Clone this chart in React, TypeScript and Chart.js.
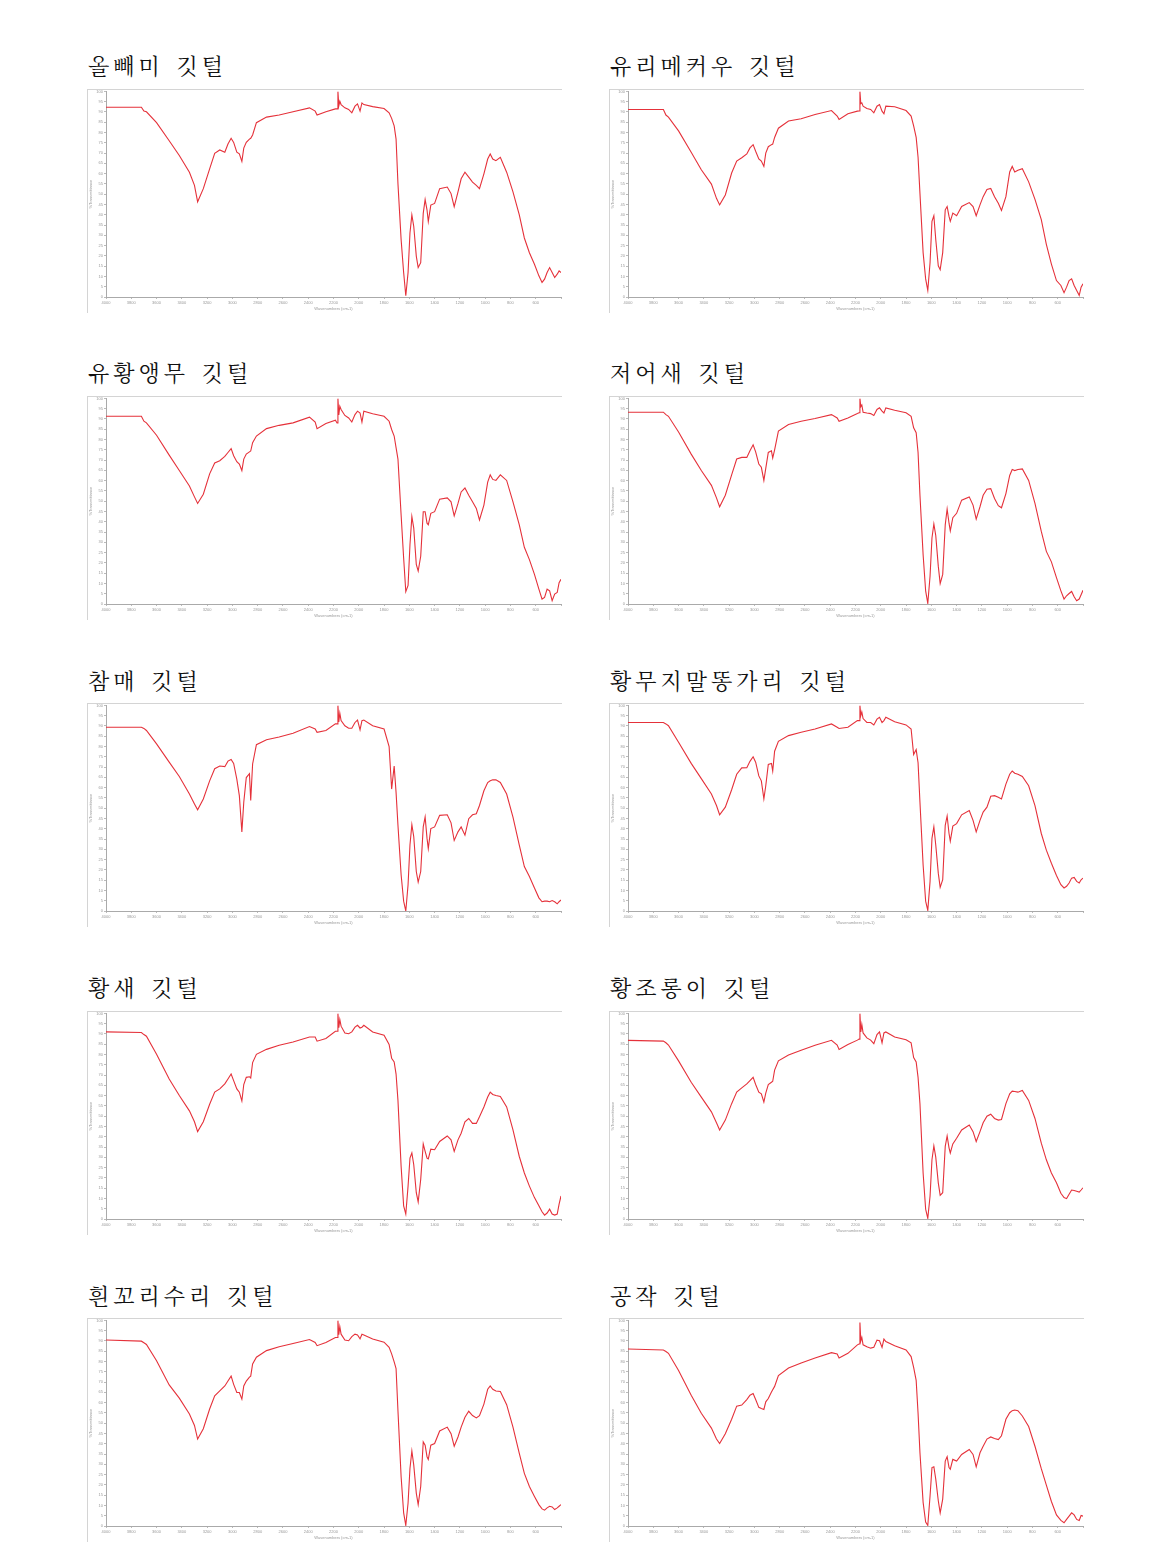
import React, { useEffect, useRef } from "react";
import { Chart, registerables } from "chart.js";

Chart.register(...registerables);

// Shared wavenumber grid (cm-1), high → low
const wavenumbers = [
  4000, 3720, 3700, 3680, 3600, 3500, 3420, 3340, 3300, 3275,
  3230, 3180, 3140, 3100, 3060, 3035, 3010, 2990, 2965, 2945,
  2925, 2910, 2890, 2865, 2855, 2840, 2810, 2730, 2630, 2520,
  2390, 2345, 2330, 2260, 2185, 2172, 2165, 2158, 2150, 2140,
  2110, 2080, 2055, 2030, 2010, 1990, 1975, 1960, 1890, 1800,
  1760, 1740, 1720, 1705, 1690, 1665, 1645, 1628, 1610, 1595,
  1580, 1565, 1545, 1530, 1510, 1490, 1475, 1460, 1450, 1430,
  1400, 1360, 1300, 1270, 1245, 1215, 1190, 1160, 1130, 1100,
  1070, 1045, 1010, 980, 960, 940, 915, 880, 830, 780,
  730, 690, 650, 610, 575, 550, 530, 510, 490, 470,
  450, 430, 415, 400,
];

// % transmittance for each feather
const owl = [
  92.3, 92.3, 90.4, 90.1, 84.8, 76, 68.8, 60.7, 54.3, 46.3,
  52.7, 62.3, 69.9, 71.5, 70.4, 74.4, 77.2, 75.2, 70.4, 69.6,
  66, 72.4, 75.2, 76.8, 77.2, 78.8, 84.8, 87.5, 88.5, 90.1,
  92, 90.4, 88.5, 90.1, 91.5, 91.5, 100, 93, 95.2, 93.6,
  92, 91.2, 89.6, 92.8, 93.9, 90.4, 94.4, 93.6, 92.6, 91.7,
  89.6, 86.9, 83.2, 76.8, 55.1, 27.9, 11.9, 0.6, 11.9, 31.1,
  39.9, 34.3, 19.9, 14.3, 16.7, 40.7, 47.4, 42.3, 36.7, 44.7,
  45.5, 52.7, 53.5, 50.3, 43.9, 51.1, 57.5, 60.7, 58.3, 55.9,
  54.3, 52.7, 59.9, 67.1, 69.6, 67.1, 66.3, 67.9, 60.7, 51.1,
  39.9, 28.7, 21.5, 15.9, 10.3, 7.1, 8.7, 11.9, 14.3, 11.9,
  9.5, 11.1, 12.7, 11.9,
];
const macaw = [
  91.2, 91.2, 88.5, 87.5, 80.8, 70.4, 61.9, 54.9, 48, 44.8,
  49.6, 60.3, 66.1, 67.7, 69.6, 72.5, 74.1, 70.9, 67.2, 66.1,
  63.5, 70, 73.1, 74.1, 74.4, 77.6, 82.1, 85.6, 86.7, 88.8,
  90.7, 88, 86.4, 89.1, 90.4, 90.5, 100, 94, 94.4, 92.8,
  91.7, 91.2, 89.6, 92.8, 93.6, 90.4, 89.1, 92.8, 92.5, 90.7,
  88, 83.2, 77.6, 68, 50.4, 21.6, 8.8, 3.2, 16.8, 36.8,
  39.5, 28, 15.2, 13.3, 21.6, 42.4, 44, 39.2, 36.8, 40.8,
  39.5, 44, 45.9, 44, 39.5, 44.8, 48.8, 52.3, 52.8, 48.8,
  45.6, 42.1, 48.8, 60.8, 63.5, 60.8, 61.6, 62.4, 56, 47.5,
  37.6, 25.6, 16, 8, 5.6, 2.1, 4.8, 8, 8.8, 5.6,
  3.2, 0.8, 4.8, 6.4,
];
const cockatoo = [
  91.3, 91.3, 88.9, 88.1, 82.1, 72.4, 64.9, 57.4, 52.1, 48.9,
  53.4, 63.3, 68.6, 69.7, 71.8, 73.7, 75.6, 72.1, 69.2, 68.1,
  64.9, 70.5, 72.9, 74, 74.4, 78.5, 81.7, 85.3, 86.9, 88.1,
  90.9, 88.5, 85.3, 87.8, 89.4, 88, 100, 92, 96.2, 94.6,
  91.7, 90.5, 88.5, 92.1, 93.8, 92.9, 88.5, 93.8, 92.5, 91.3,
  88.9, 84.9, 81.7, 76.1, 70.5, 43.3, 22.4, 6, 9, 28.8,
  42.5, 36.9, 19.2, 16, 23.2, 44.9, 44.9, 39.3, 38.5, 44.1,
  44.9, 51, 51.6, 49.7, 42.9, 48.9, 54.5, 56.4, 52.9, 49.7,
  46.5, 40.9, 48.1, 59.3, 62.8, 60.6, 60.1, 62.8, 60.1, 49.7,
  38.5, 27.6, 21.6, 14.4, 7.2, 2.4, 3.2, 7.2, 6.4, 1.6,
  4.8, 5.6, 10.4, 12,
];
const spoonbill = [
  93.3, 93.3, 92.1, 91.3, 83.7, 72.9, 64.9, 57.7, 51.6, 47.3,
  52.9, 62.8, 70.5, 71.3, 71.3, 74.5, 77.4, 74, 68.1, 66.5,
  60.1, 66, 73.7, 74.5, 71, 75, 84.1, 87.3, 88.9, 90.2,
  92.1, 90.5, 88.9, 90.5, 92.6, 93, 100, 96, 96.8, 93.3,
  92.9, 92.6, 91.7, 94.6, 95.4, 93.8, 92.9, 95.4, 94.2, 93,
  91.3, 85.7, 83.3, 73.7, 52.9, 24, 6.4, 0.3, 13.6, 32.1,
  38.9, 33.3, 18.4, 9.9, 14.4, 38.5, 46.2, 39.3, 35.6, 42,
  44.1, 50.5, 52.1, 48.1, 41.3, 47.3, 52.9, 55.8, 56.1, 51.3,
  47.8, 46.8, 53.7, 62.5, 65.4, 64.9, 65.4, 65.7, 60.1, 48.9,
  35.3, 25.6, 20.5, 12.8, 6.4, 2.4, 4, 5.1, 6.1, 3.5,
  1.6, 2.4, 4.5, 6.7,
];
const goshawk = [
  89.4, 89.4, 88.8, 87.8, 81.3, 72.4, 65.4, 56.9, 52.1, 49.2,
  54.5, 63.3, 69.2, 70.5, 70.2, 72.9, 73.7, 71.8, 64.1, 56.1,
  38.5, 52.9, 64.9, 66.8, 53.7, 71.5, 80.9, 83.3, 84.6, 86.5,
  89.7, 88.5, 86.9, 87.8, 91, 91, 100, 92, 96.2, 92.6,
  90.1, 88.9, 88.9, 91.7, 92.9, 88.1, 92.6, 92.9, 90.1, 88.5,
  80, 59.3, 70.5, 57.7, 41.7, 17.6, 4.8, 0, 12.8, 32.1,
  42, 36.1, 19.2, 14.1, 19.2, 40.9, 45.7, 35.3, 30.4, 40.1,
  40.9, 46.5, 46.8, 42.9, 34.3, 38.5, 40.9, 36.9, 44.9, 46.8,
  47.3, 51.3, 58.5, 62.5, 63.3, 63.8, 63.8, 62.5, 56.9, 45.7,
  32, 21.6, 16.8, 11.2, 6.4, 4.5, 4.8, 4.8, 4.5, 5.1,
  4.5, 3.5, 4.5, 5.4,
];
const buzzard = [
  91.7, 91.7, 91, 90.1, 82.1, 71.8, 64.4, 56.9, 51.3, 46.8,
  50.5, 59, 66.5, 69.6, 69.7, 72.8, 75, 72.4, 65.7, 63.3,
  54.5, 60.9, 71.3, 71.8, 68.1, 77.7, 82.5, 85.3, 86.9, 88.5,
  91, 89.4, 88.8, 89.4, 92.6, 92.6, 100, 95, 96.8, 93.6,
  91.7, 91.7, 90.5, 93.3, 94.2, 91.7, 92.6, 94.2, 92, 90.5,
  88.5, 76.1, 78.5, 72.1, 52.9, 22.4, 4.8, 0.3, 14.4, 35.3,
  40.9, 32.1, 18.4, 11.5, 15.2, 41.7, 46.2, 37.7, 34, 41.3,
  42.5, 46.8, 48.9, 44.1, 38.5, 44.1, 48.1, 50.5, 55.8, 56.1,
  55.3, 54.5, 61.7, 66.5, 68.1, 67, 66.5, 65.4, 60.9, 51.3,
  37.7, 29.6, 23.2, 17.3, 12.8, 11.2, 12, 13.6, 16, 16.3,
  14.4, 13.6, 15.2, 16,
];
const stork = [
  91, 90.7, 89.7, 88.9, 80.1, 68.1, 60.1, 52.6, 47.3, 42.5,
  47.3, 55.8, 61.7, 63.3, 65.7, 68.1, 70.5, 67.3, 63.3, 61.7,
  57.4, 65.4, 68.9, 69.2, 68.6, 76.1, 80.1, 82.5, 84.5, 86.1,
  88.5, 88.5, 86.5, 87.8, 91.3, 91.3, 100, 93, 97, 93.8,
  90.5, 90.1, 91, 93.3, 94.2, 92.9, 93.3, 94.2, 91, 89.4,
  84.9, 78.2, 76.4, 70.5, 57.7, 25.6, 6.4, 2.4, 16, 29.6,
  32.1, 26.4, 12.8, 8.3, 19.2, 36.5, 32.9, 29.6, 29.2, 34,
  33.7, 37.7, 40.4, 38.5, 32.9, 38.5, 41.7, 47.3, 48.9, 46.5,
  46.5, 49.7, 54.5, 59.3, 61.7, 60.6, 60.1, 59.6, 54.5, 43.3,
  30.4, 22.4, 16, 10.4, 6.4, 3.5, 1.9, 2.9, 4.8, 2.4,
  1.9, 2.4, 7.2, 11.2,
];
const kestrel = [
  86.9, 86.5, 85.7, 84.6, 76.9, 66.5, 59.3, 52.1, 46.8, 43.3,
  48.1, 56.1, 61.7, 63.8, 65.7, 67.3, 68.9, 65.4, 61.7, 60.9,
  56.9, 61.2, 65.4, 66.5, 67, 72.4, 76.9, 79.8, 82.1, 84.5,
  86.9, 84.6, 82.5, 84.9, 87, 87.5, 100, 91, 94.6, 90.5,
  88.1, 87, 85.3, 89.7, 91, 85.7, 90.5, 91, 88.5, 87.2,
  85.7, 78.5, 76.4, 68.9, 56.1, 22.4, 4.8, 0.3, 11.2, 28.8,
  35.6, 30.1, 17.6, 11.5, 12.8, 35.3, 40.4, 34.6, 32.1, 36.5,
  39.3, 43.3, 45.7, 42.5, 37.7, 42.5, 46.8, 50, 51, 48.9,
  48.1, 48.4, 56.1, 60.9, 62.2, 62, 61.7, 62.5, 57.7, 48.9,
  36.9, 28.8, 22.4, 17.6, 12.5, 10.4, 9.9, 12, 14.1, 13.9,
  13.5, 13.1, 14.1, 15.2,
];
const eagle = [
  90.5, 89.9, 89.1, 88.3, 80.4, 68.6, 62.2, 54.5, 48.9, 42.3,
  47.3, 56.9, 63.3, 65.7, 68.1, 70.5, 72.9, 68.9, 64.9, 64.9,
  61.7, 68.1, 70.5, 72.4, 72.9, 78.8, 82.1, 85.3, 87.2, 88.8,
  90.7, 89.3, 87.7, 89.3, 91.7, 91.7, 100, 93, 97, 93.3,
  90.5, 90.1, 92.1, 93.3, 92.9, 91, 93.3, 92.9, 91, 89.4,
  86.9, 83.7, 79.8, 76.6, 56.1, 24, 6.4, 0.3, 11.2, 28,
  36.5, 29.6, 16, 10.4, 19.2, 40.9, 39.3, 33.7, 32.4, 39.3,
  40.1, 46.2, 48.1, 44.9, 38.8, 43.3, 48.1, 52.9, 55.8, 53.7,
  52.6, 53.7, 59.3, 66.5, 68.1, 66.5, 65.7, 65.4, 59, 48.1,
  35.3, 25.6, 19.2, 14.4, 10.4, 8.3, 7.7, 8.8, 9.6, 9.3,
  8, 8.8, 9.6, 10.4,
];
const peacock = [
  86.1, 85.6, 84.9, 84, 75.6, 63.6, 54.8, 47.6, 42.3, 40.1,
  44.9, 51.9, 58.3, 58.8, 61.5, 63.6, 64.4, 61.5, 57.7, 57.1,
  56.7, 60.4, 62, 65.2, 66.3, 67.9, 73.2, 76.8, 79.3, 81.7,
  84.3, 83.7, 81.7, 84, 88.1, 88.5, 99, 90, 91.7, 88.1,
  87.2, 86.5, 86.9, 90.4, 90.1, 86.9, 90.9, 89.7, 87.7, 85.6,
  82.4, 77.2, 70.8, 54.8, 35.6, 11.5, 1.9, 0.3, 14.7, 28.4,
  28.8, 22.8, 12.3, 6.4, 13.1, 31.6, 33.7, 28.4, 27.6, 32.4,
  31.6, 34.8, 37.2, 34.8, 28.8, 35.6, 38.8, 42.3, 43.3, 42.6,
  42, 43.9, 51.9, 55.1, 56.1, 56.4, 56.1, 53.5, 48.4, 38.8,
  27.9, 19.9, 11.9, 5.4, 2.7, 1.6, 3.2, 4.8, 6.4, 5.4,
  3.2, 2.7, 5.1, 4.8,
];

const panelTitles = [
  "올빼미 깃털",
  "유리메커우 깃털",
  "유황앵무 깃털",
  "저어새 깃털",
  "참매 깃털",
  "황무지말똥가리 깃털",
  "황새 깃털",
  "황조롱이 깃털",
  "흰꼬리수리 깃털",
  "공작 깃털",
];
const panelSeries = [owl, macaw, cockatoo, spoonbill, goshawk, buzzard, stork, kestrel, eagle, peacock];

const xAxisTitle = "Wavenumbers (cm-1)";
const yAxisTitle = "%Transmittance";

const CANVAS_W = 474;
const CANVAS_H = 223;

function Spectrum({ values }: { values: number[] }) {
  const ref = useRef<HTMLCanvasElement>(null);
  useEffect(() => {
    const tickFont = { size: 4, family: "Liberation Sans, Arial, sans-serif" };
    const chart = new Chart(ref.current as HTMLCanvasElement, {
      type: "line",
      data: {
        datasets: [
          {
            data: wavenumbers.map((w, i) => ({ x: w, y: values[i] })),
            borderColor: "#e5313a",
            borderWidth: 1.1,
            pointRadius: 0,
            tension: 0,
            fill: false,
          },
        ],
      },
      options: {
        animation: false,
        responsive: false,
        maintainAspectRatio: false,
        layout: { padding: { top: 1, right: 0, bottom: 0, left: 0 } },
        plugins: { legend: { display: false }, tooltip: { enabled: false } },
        scales: {
          x: {
            type: "linear",
            reverse: true,
            min: 400,
            max: 4000,
            afterFit: (s: any) => {
              s.height = 14;
            },
            ticks: {
              stepSize: 200,
              autoSkip: false,
              maxRotation: 0,
              font: tickFont,
              color: "#999",
              padding: 1,
              callback: (v: any) => (v === 400 ? "" : String(v)),
            },
            grid: { drawOnChartArea: false, tickLength: 2, color: "#bbb" },
            border: { color: "#aaa" },
            title: { display: true, text: xAxisTitle, font: tickFont, color: "#999", padding: 0 },
          },
          y: {
            min: 0,
            max: 100,
            afterFit: (s: any) => {
              s.width = 18;
            },
            ticks: {
              stepSize: 5,
              autoSkip: false,
              font: tickFont,
              color: "#999",
              padding: 1,
            },
            grid: { drawOnChartArea: false, tickLength: 2, color: "#bbb" },
            border: { color: "#aaa" },
            title: { display: true, text: yAxisTitle, font: tickFont, color: "#999", padding: 0 },
          },
        },
      },
    } as any);
    return () => chart.destroy();
  }, [values]);
  return (
    <canvas
      ref={ref}
      width={CANVAS_W}
      height={CANVAS_H}
      style={{ display: "block", width: CANVAS_W, height: CANVAS_H, marginTop: -2 }}
    />
  );
}

export default function App() {
  const rowPitch = 307.4;
  const colLeft = [87, 609];
  return (
    <div
      style={{
        position: "absolute",
        left: 0,
        top: 0,
        width: 1160,
        height: 1562,
        background: "#fff",
      }}
    >
      {panelTitles.map((title, i) => {
        const row = Math.floor(i / 2);
        const col = i % 2;
        const titleCenter = 66 + rowPitch * row;
        const boxTop = 88.5 + rowPitch * row;
        return (
          <React.Fragment key={title}>
            <div
              style={{
                position: "absolute",
                left: colLeft[col] + 1,
                top: titleCenter - 13,
                fontFamily: '"Noto Serif CJK KR", "Noto Sans CJK KR", serif',
                fontSize: 22,
                lineHeight: "24px",
                letterSpacing: 4,
                wordSpacing: 3,
                color: "#111",
                whiteSpace: "nowrap",
              }}
            >
              {title}
            </div>
            <div
              style={{
                position: "absolute",
                left: colLeft[col],
                top: boxTop,
                width: CANVAS_W + 1,
                height: CANVAS_H + 1,
                borderTop: "1px solid #d4d4d4",
                borderLeft: "1px solid #d4d4d4",
                boxSizing: "border-box",
              }}
            >
              <Spectrum values={panelSeries[i]} />
            </div>
          </React.Fragment>
        );
      })}
    </div>
  );
}
